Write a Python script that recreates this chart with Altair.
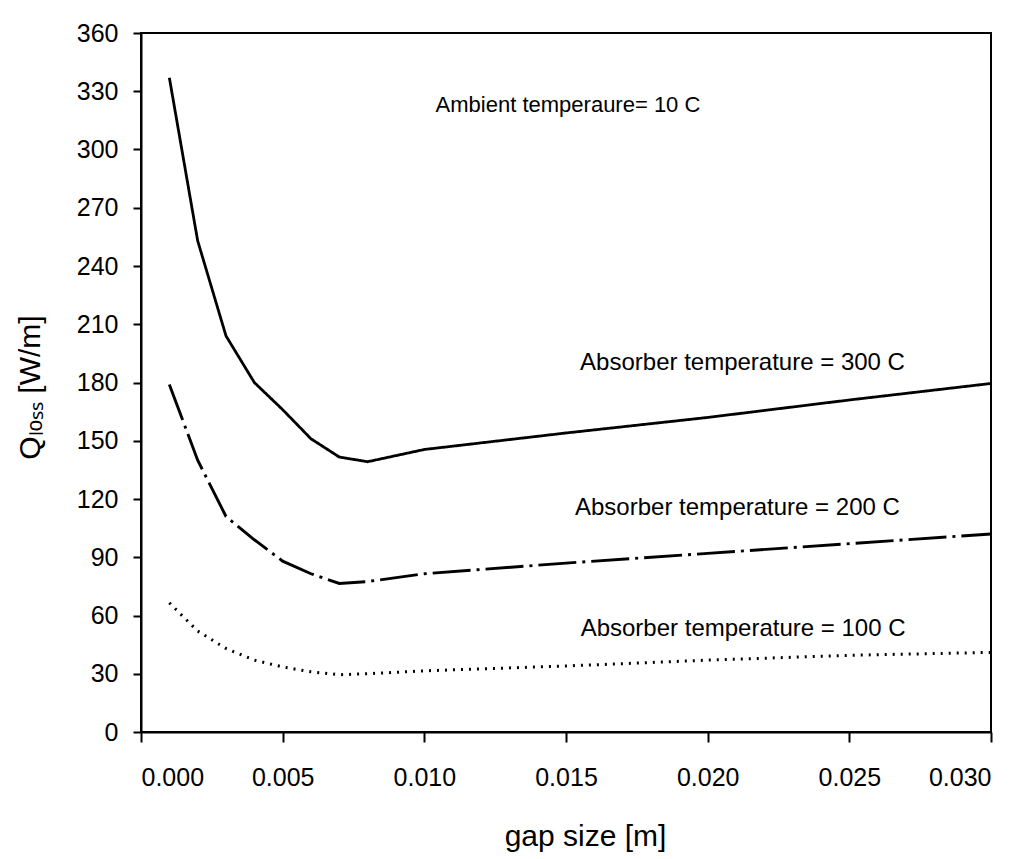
import altair as alt
import pandas as pd

# ---- data ----
gap = [0.001, 0.002, 0.003, 0.004, 0.005, 0.006, 0.007, 0.008, 0.010, 0.015, 0.020, 0.025, 0.030]
q300 = [337, 253, 204, 180, 166, 151, 141.6, 139.2, 145.5, 154, 162, 171, 179.5]
q200 = [179, 140, 111, 99, 88, 81.5, 76.5, 77.5, 81.5, 87, 92, 97, 102]
q100 = [66.5, 52, 43, 37, 33.5, 31, 29.5, 30, 31.5, 34, 37, 39.5, 41]

series_names = ["Absorber 300 C", "Absorber 200 C", "Absorber 100 C"]

ann_text = ["Ambient temperaure= 10 C",
            "Absorber temperature = 300 C",
            "Absorber temperature = 200 C",
            "Absorber temperature = 100 C"]
ann_x = [0.01507, 0.02123, 0.02105, 0.02125]
ann_y = [322.9, 190.0, 115.6, 53.3]
ann_size = [22, 24, 24, 24]

x_ticks = [0.000, 0.005, 0.010, 0.015, 0.020, 0.025, 0.030]
y_ticks = list(range(0, 361, 30))

rows = []
for name, vals in zip(series_names, [q300, q200, q100]):
    for g, v in zip(gap, vals):
        rows.append({"gap": g, "q": v, "series": name})
df = pd.DataFrame(rows)
ann = pd.DataFrame({"label": ann_text, "x": ann_x, "y": ann_y, "size": ann_size})

FONT = "Liberation Sans"

x_enc = alt.X("gap:Q",
              scale=alt.Scale(domain=[0, 0.030], nice=False, zero=False),
              axis=alt.Axis(values=x_ticks, format=".3f", title="gap size [m]",
                            grid=False, tickSize=10, tickWidth=2, tickColor="black",
                            domainColor="black", domainWidth=2,
                            labelFont=FONT, labelFontSize=25, labelColor="black",
                            labelBaseline="alphabetic", labelPadding=43,
                            titleFont=FONT, titleFontSize=30, titleFontWeight="normal",
                            titleColor="black", titleX=444, titleY=113,
                            titleBaseline="alphabetic", titleAlign="center"))
y_enc = alt.Y("q:Q",
              scale=alt.Scale(domain=[0, 360], nice=False, zero=True),
              axis=alt.Axis(values=y_ticks, title="Qₗₒₛₛ [W/m]",
                            grid=False, tickSize=8, tickWidth=2, tickColor="black",
                            domainColor="black", domainWidth=2,
                            labelFont=FONT, labelFontSize=25, labelColor="black",
                            labelPadding=15, labelBaseline="middle",
                            titleFont=FONT, titleFontSize=30, titleFontWeight="normal",
                            titleColor="black", titleAngle=270, titleX=-102, titleY=354,
                            titleBaseline="alphabetic", titleAlign="center"))

lines = alt.Chart(df).mark_line(color="black", strokeCap="butt").encode(
    x=x_enc,
    y=y_enc,
    detail="series:N",
    strokeDash=alt.StrokeDash("series:N",
                              scale=alt.Scale(domain=series_names,
                                              range=[[1, 0], [38, 6, 3, 6], [2, 6]]),
                              legend=None),
    strokeWidth=alt.StrokeWidth("series:N",
                                scale=alt.Scale(domain=series_names, range=[2.8, 3, 2.4]),
                                legend=None),
)

labels = alt.Chart(ann).mark_text(font=FONT, color="black", align="center",
                                  baseline="middle").encode(
    x="x:Q",
    y="y:Q",
    text="label:N",
    size=alt.Size("size:Q", scale=None, legend=None),
)

chart = (lines + labels).properties(
    width=850, height=699,
    autosize=alt.AutoSizeParams(type="none"),
    padding={"left": 133, "top": 25, "right": 31, "bottom": 126},
    background="white",
).configure_view(stroke="black", strokeWidth=2)

chart.save("out.html", embed_options={"renderer": "svg", "actions": False})
